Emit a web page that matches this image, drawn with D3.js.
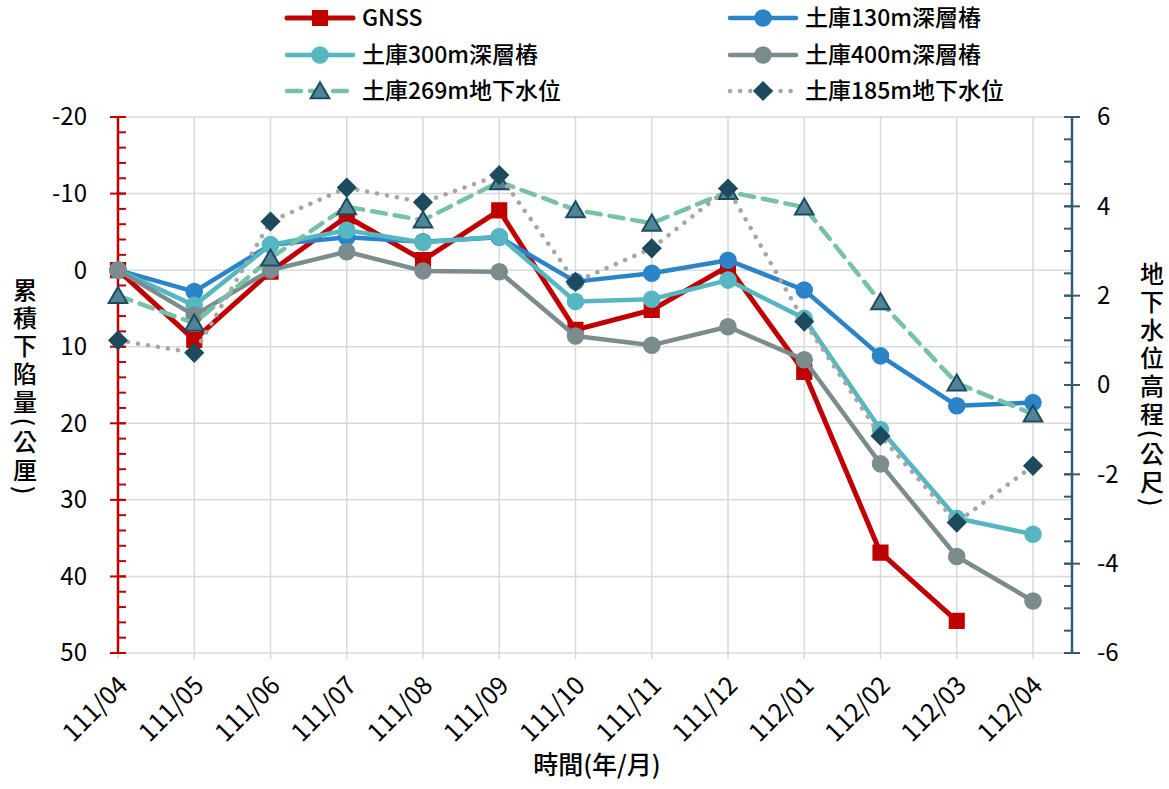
<!DOCTYPE html>
<html lang="zh-Hant">
<head>
<meta charset="UTF-8">
<title>土庫 累積下陷量與地下水位</title>
<script src="https://d3js.org/d3.v7.min.js"></script>
<style>
  body { margin: 0; background: #fff; }
  svg { font-family: "Noto Sans CJK TC", "Noto Sans", sans-serif; }
  .grid line { stroke: #d9d9d9; stroke-width: 1.5px; }
  .tick-label { font-size: 24px; fill: #000; }
  .x-label { font-size: 25px; fill: #000; }
</style>
</head>
<body>
<svg id="chart" width="1169" height="789"></svg>
<script>
// categories (year/month, ROC calendar)
const months = ["111/04","111/05","111/06","111/07","111/08","111/09","111/10","111/11","111/12","112/01","112/02","112/03","112/04"];

// cumulative subsidence (mm), left axis
const gnss   = [0, 9.1, 0.2, -7.0, -1.3, -7.8, 7.8, 5.2, -0.5, 13.3, 36.9, 45.8, null];
const w130   = [0, 2.8, -3.3, -4.3, -3.7, -4.3, 1.5, 0.4, -1.3, 2.6, 11.2, 17.7, 17.3];
const w300   = [0, 4.6, -3.3, -5.2, -3.6, -4.4, 4.1, 3.8, 1.3, 6.3, 20.8, 32.4, 34.5];
const w400   = [0, 5.9, 0.0, -2.4, 0.1, 0.2, 8.6, 9.8, 7.4, 11.7, 25.3, 37.4, 43.2];

// groundwater level (m), right axis
const gw269  = [2.0, 1.38, 2.84, 3.99, 3.69, 4.55, 3.92, 3.62, 4.33, 3.98, 1.86, 0.04, -0.65];
const gw185  = [1.0, 0.72, 3.66, 4.42, 4.09, 4.70, 2.31, 3.06, 4.40, 1.42, -1.14, -3.08, -1.81];

const leftTicks = [-20, -10, 0, 10, 20, 30, 40, 50];
const rightTicks = [6, 4, 2, 0, -2, -4, -6];

const svg = d3.select("#chart");
const plot = { left: 118, right: 1072, top: 117, bottom: 653 };

const x = d3.scalePoint().domain(months).range([118, 1033]);
const yL = d3.scaleLinear().domain([-20, 50]).range([plot.top, plot.bottom]);
const yR = d3.scaleLinear().domain([6, -6]).range([plot.top, plot.bottom]);

// gridlines
const grid = svg.append("g").attr("class", "grid");
grid.selectAll(".h").data(leftTicks).join("line")
  .attr("x1", plot.left).attr("x2", plot.right)
  .attr("y1", d => yL(d)).attr("y2", d => yL(d));
grid.selectAll(".v").data(months.slice(1)).join("line")
  .attr("x1", d => x(d)).attr("x2", d => x(d))
  .attr("y1", plot.top).attr("y2", plot.bottom);

// bottom category ticks
svg.append("g").selectAll("line").data(months).join("line")
  .attr("x1", d => x(d)).attr("x2", d => x(d))
  .attr("y1", plot.bottom).attr("y2", plot.bottom + 6)
  .attr("stroke", "#d9d9d9").attr("stroke-width", 1.5);

// left axis (red)
const leftAxis = svg.append("g").attr("transform", `translate(${plot.left},0)`);
leftAxis.append("line").attr("y1", plot.top).attr("y2", plot.bottom)
  .attr("stroke", "#c00000").attr("stroke-width", 2.5);
leftAxis.selectAll(".minor").data(d3.range(-20, 50.1, 2)).join("line")
  .attr("x1", 0).attr("x2", 8).attr("y1", d => yL(d)).attr("y2", d => yL(d))
  .attr("stroke", "#c00000").attr("stroke-width", 2);
leftAxis.selectAll(".major").data(leftTicks).join("line")
  .attr("x1", -8).attr("x2", 8).attr("y1", d => yL(d)).attr("y2", d => yL(d))
  .attr("stroke", "#c00000").attr("stroke-width", 2);
leftAxis.selectAll("text").data(leftTicks).join("text")
  .attr("class", "tick-label")
  .attr("x", -31).attr("y", d => yL(d)).attr("dy", "0.35em")
  .attr("text-anchor", "end").text(d => d);

// right axis (dark teal)
const rightAxis = svg.append("g").attr("transform", `translate(${plot.right},0)`);
rightAxis.append("line").attr("y1", plot.top).attr("y2", plot.bottom)
  .attr("stroke", "#2e5e73").attr("stroke-width", 2.5);
rightAxis.selectAll(".minor").data(d3.range(-6, 6.01, 0.5)).join("line")
  .attr("x1", -8).attr("x2", 0).attr("y1", d => yR(d)).attr("y2", d => yR(d))
  .attr("stroke", "#2e5e73").attr("stroke-width", 2);
rightAxis.selectAll(".major").data(rightTicks).join("line")
  .attr("x1", -8).attr("x2", 8).attr("y1", d => yR(d)).attr("y2", d => yR(d))
  .attr("stroke", "#2e5e73").attr("stroke-width", 2);
rightAxis.selectAll("text").data(rightTicks).join("text")
  .attr("class", "tick-label")
  .attr("x", 25).attr("y", d => yR(d)).attr("dy", "0.35em")
  .attr("text-anchor", "start").text(d => d);

// x tick labels
svg.append("g").selectAll("text").data(months).join("text")
  .attr("class", "x-label")
  .attr("transform", d => `translate(${x(d) + 5},${plot.bottom + 28}) rotate(-45)`)
  .attr("text-anchor", "end").attr("dy", "0.35em")
  .text(d => d);

// axis titles
svg.append("text").attr("x", 597).attr("y", 774).attr("text-anchor", "middle")
  .style("font-size", "25px").style("font-weight", 500).text("時間(年/月)");
svg.append("text").attr("x", 25).attr("y", 388).attr("text-anchor", "middle")
  .style("writing-mode", "vertical-rl").style("font-size", "24px").style("font-weight", 500)
  .style("letter-spacing", "4px")
  .text("累積下陷量(公厘)");
svg.append("text").attr("x", 1152).attr("y", 386).attr("text-anchor", "middle")
  .style("writing-mode", "vertical-rl").style("font-size", "24px").style("font-weight", 500)
  .style("letter-spacing", "4px")
  .text("地下水位高程(公尺)");

// series definitions
const series = [
  { name: "GNSS", values: gnss, y: yL, color: "#c00000", width: 5, dash: null, marker: "square", mfill: "#c00000", mstroke: "#c00000" },
  { name: "土庫130m深層樁", values: w130, y: yL, color: "#2b84c8", width: 4.5, dash: null, marker: "circle", mfill: "#2b84c8", mstroke: "#2b84c8" },
  { name: "土庫300m深層樁", values: w300, y: yL, color: "#56b7c2", width: 4.5, dash: null, marker: "circle", mfill: "#56b7c2", mstroke: "#56b7c2" },
  { name: "土庫400m深層樁", values: w400, y: yL, color: "#7a8c8e", width: 4.5, dash: null, marker: "circle", mfill: "#7a8c8e", mstroke: "#7a8c8e" },
  { name: "土庫269m地下水位", values: gw269, y: yR, color: "#76c1a8", width: 4.5, dash: "14 9", marker: "triangle", mfill: "#4f8597", mstroke: "#1f4b5e" },
  { name: "土庫185m地下水位", values: gw185, y: yR, color: "#a6a6a6", width: 4.5, dash: "0.1 10", marker: "diamond", mfill: "#1d4a5d", mstroke: "#1d4a5d" }
];

const symbols = {
  square: d3.symbol().type(d3.symbolSquare).size(200),
  circle: d3.symbol().type(d3.symbolCircle).size(190),
  triangle: d3.symbol().type(d3.symbolTriangle).size(150),
  diamond: d3.symbol().type(d3.symbolSquare).size(150)
};
const markerShift = { square: "", circle: "", triangle: " translate(0,2)", diamond: " rotate(45)" };

series.forEach(s => {
  const pts = s.values.map((v, i) => ({ m: months[i], v })).filter(p => p.v !== null);
  const line = d3.line().x(p => x(p.m)).y(p => s.y(p.v));
  svg.append("path").datum(pts)
    .attr("d", line).attr("fill", "none")
    .attr("stroke", s.color).attr("stroke-width", s.width)
    .attr("stroke-linecap", "round").attr("stroke-linejoin", "round")
    .attr("stroke-dasharray", s.dash);
  svg.append("g").selectAll("path").data(pts).join("path")
    .attr("transform", p => `translate(${x(p.m)},${s.y(p.v)})${markerShift[s.marker]}`)
    .attr("d", symbols[s.marker]())
    .attr("fill", s.mfill).attr("stroke", s.mstroke).attr("stroke-width", 2);
});

// legend
const legendPos = [[285, 18], [728, 18], [285, 55], [728, 55], [285, 91], [728, 91]];
series.forEach((s, i) => {
  const [lx, ly] = legendPos[i];
  const g = svg.append("g").attr("transform", `translate(${lx},${ly})`);
  g.append("line").attr("x1", 2).attr("x2", 68).attr("y1", 0).attr("y2", 0)
    .attr("stroke", s.color).attr("stroke-width", s.width)
    .attr("stroke-linecap", "round").attr("stroke-dasharray", s.dash);
  g.append("path").attr("transform", `translate(35,0)${markerShift[s.marker]}`)
    .attr("d", symbols[s.marker]())
    .attr("fill", s.mfill).attr("stroke", s.mstroke).attr("stroke-width", 2);
  g.append("text").attr("x", 77).attr("y", 0).attr("dy", "0.36em")
    .style("font-size", "23px").style("font-weight", 500).text(s.name);
});
</script>
</body>
</html>
